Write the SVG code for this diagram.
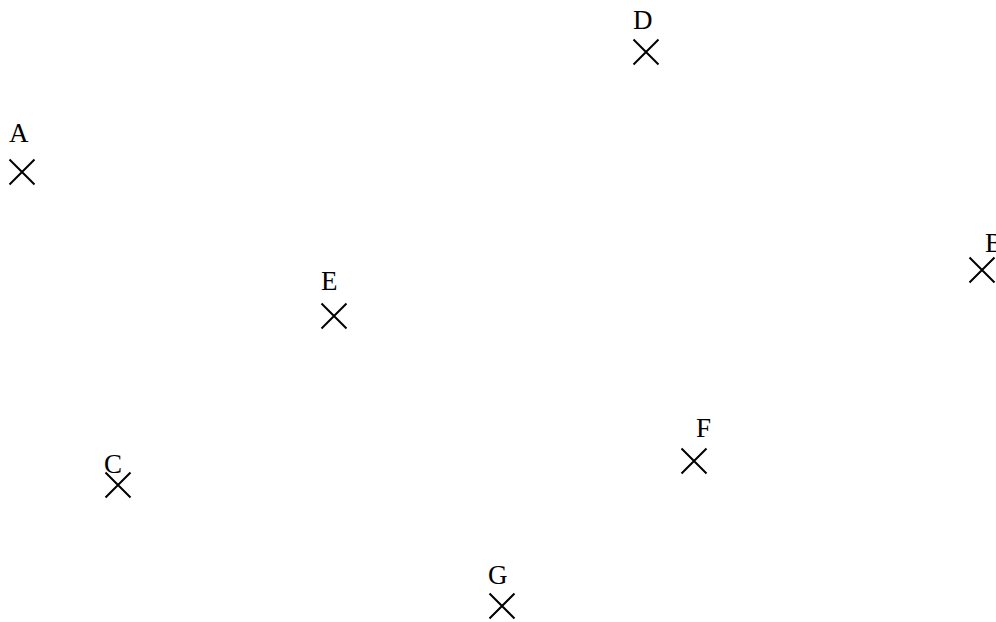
<svg xmlns="http://www.w3.org/2000/svg" width="996" height="622" viewBox="0 0 996 622">
<defs>
<style>
.lbl{font-family:"Liberation Serif","Times New Roman",serif;font-size:27px;fill:#000}
.x{stroke:#000;stroke-width:2;fill:none}
</style>
<path id="cross" class="x" d="M-12.5,-12.5L12.5,12.5M-12.5,12.5L12.5,-12.5"/>
</defs>
<rect width="996" height="622" fill="#fff"/>
<g id="connectors"></g>
<g id="A"><use href="#cross" x="22" y="172"/><text class="lbl" x="9" y="142">A</text></g>
<g id="B"><use href="#cross" x="982" y="270"/><text class="lbl" x="985" y="252">B</text></g>
<g id="C"><use href="#cross" x="118" y="485"/><text class="lbl" x="104" y="473">C</text></g>
<g id="D"><use href="#cross" x="646" y="52"/><text class="lbl" x="633" y="29">D</text></g>
<g id="E"><use href="#cross" x="334" y="316"/><text class="lbl" x="321" y="290">E</text></g>
<g id="F"><use href="#cross" x="694" y="461"/><text class="lbl" x="696" y="437">F</text></g>
<g id="G"><use href="#cross" x="502" y="606"/><text class="lbl" x="488" y="584">G</text></g>
</svg>
